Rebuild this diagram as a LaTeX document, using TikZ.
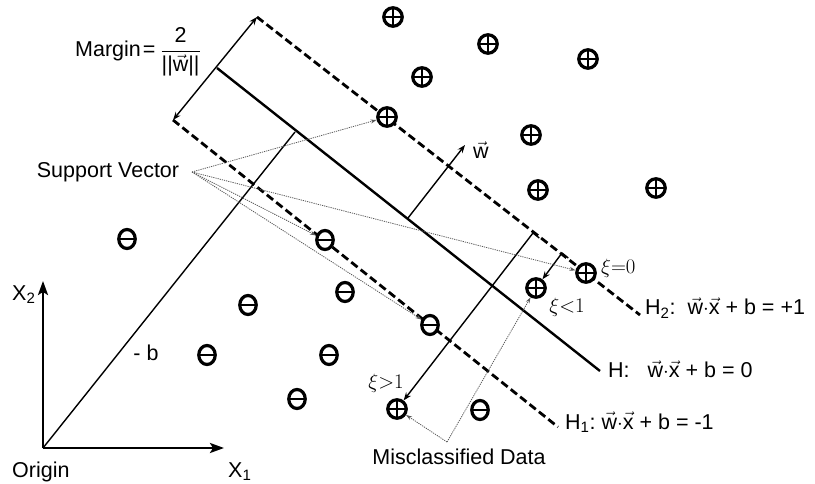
\documentclass[tikz,border=0pt]{standalone}
\usepackage{fontspec}
\setmainfont{Liberation Sans}
\usepackage{amsmath}
\usetikzlibrary{arrows.meta,shapes.geometric}
\newcommand\vw{\ensuremath{\vec{\text{w}}}}
\newcommand\vx{\ensuremath{\vec{\text{x}}}}
\begin{document}
\begin{tikzpicture}[x=1pt,y=-1pt,
  possym/.style={circle,draw,fill=white,line width=3.2pt,minimum size=18.5pt,inner sep=0pt,
    path picture={\draw[line width=2.8pt] (path picture bounding box.north)--(path picture bounding box.south) (path picture bounding box.west)--(path picture bounding box.east);}},
  negsym/.style={ellipse,draw,fill=white,line width=3.2pt,minimum width=16.5pt,minimum height=19pt,inner sep=0pt,
    path picture={\draw[line width=2.8pt] (path picture bounding box.west)--(path picture bounding box.east);}},
  lbl/.style={font=\fontsize{21.5}{24}\selectfont, inner sep=0pt},
  greek/.style={font=\fontsize{20}{22}\selectfont, inner sep=0pt},
  hyper/.style={line width=2.4pt},
  marg/.style={line width=2.8pt, dash pattern=on 8pt off 4pt},
  thinl/.style={line width=1.4pt},
  dots/.style={line width=0.8pt, black!65, dash pattern=on 1.2pt off 1pt, -{Stealth[length=6pt,width=4pt]}},
  tipa/.style={-{Stealth[length=8pt,width=6pt]}},
  axis/.style={line width=2.4pt,-{Stealth[length=14pt,width=10pt,inset=3pt]}},
]
\useasboundingbox (0,0) rectangle (815,484);
% coordinates
\coordinate (o) at (43,448);
\coordinate (x1end) at (224,448);
\coordinate (x2end) at (43,281);
\coordinate (bend) at (295,132);
\coordinate (h0) at (217,68);
\coordinate (h1) at (600,371);
\coordinate (h2a) at (257,17);
\coordinate (h2b) at (640,315);
\coordinate (h1a) at (173,120);
\coordinate (h1b) at (558,427);
\coordinate (w0) at (408,218);
\coordinate (w1) at (465,145);
\coordinate (s1) at (533,233);
\coordinate (s2) at (562,253);
\coordinate (sv) at (192,172);
\coordinate (mc) at (447,442);
% axes
\draw[axis] (o) -- (x1end);
\draw[axis] (o) -- (x2end);
\draw[thinl] (o) -- (bend);
% hyperplanes
\draw[hyper] (h0) -- (h1);
\draw[marg] (h2a) -- (h2b);
\draw[marg] (h1a) -- (h1b);
% margin arrow
\draw[thinl,{Stealth[length=8pt,width=6pt]}-{Stealth[length=8pt,width=6pt]}] (h1a) -- (h2a);
% w vector
\draw[thinl,tipa] (w0) -- (w1);
% data points
\foreach \n/\p in {p1/{(393,17)},p2/{(488,44)},p3/{(422,77)},p4/{(588,59)},p5/{(387,117)},p6/{(531,135)},p7/{(538,190)},p8/{(656,188)},p9/{(586,273)},p10/{(536,288)},p11/{(397,409)}}
  \node[possym] (\n) at \p {};
\foreach \n/\p in {m1/{(127,239)},m2/{(325,240)},m3/{(345,292)},m4/{(248,305)},m5/{(430,325)},m6/{(207,355)},m7/{(329,355)},m8/{(297,399)},m9/{(480,410)}}
  \node[negsym] (\n) at \p {};
% slack arrows
\draw[thinl,tipa] (s1) -- (p11);
\draw[thinl] (s1) -- ++(6.3,5);
\draw[thinl,tipa] (s2) -- (p10);
\draw[thinl] (s2) -- ++(6.3,5);
% support vector arrows
\draw[dots] (sv) -- (p5);
\draw[dots] (sv) -- (m2);
\draw[dots] (sv) -- (m5);
\draw[dots] (sv) -- (p9);
% misclassified arrows
\draw[dots] (mc) -- (p11);
\draw[dots] (mc) -- (p10);
% labels
\node[lbl,anchor=base west] (margin) at (75,57) {Margin\kern2pt=\kern5pt$\dfrac{\text{2}}{\text{||}\vw\text{||}}$};
\node[lbl] (svl) at (108,172) {Support Vector};
\node[lbl,anchor=base west] (x2l) at (12,300) {X\textsubscript{2}};
\node[lbl,anchor=base west] (x1l) at (228,477) {X\textsubscript{1}};
\node[lbl,anchor=base west] (orig) at (12,477) {Origin};
\node[lbl] (bl) at (146,353) {- b};
\node[lbl] (wl) at (481,150) {\vw};
\node[lbl,anchor=west] (h2l) at (645,308) {H\textsubscript{2}:\ \ \vw$\cdot$\vx{} + b = +1};
\node[lbl,anchor=west] (hl) at (608,369) {H:\ \ \ \vw$\cdot$\vx{} + b = 0};
\node[lbl,anchor=west] (h1l) at (565,422) {H\textsubscript{1}:\ \vw$\cdot$\vx{} + b = -1};
\node[lbl] (mcl) at (459,457) {Misclassified Data};
\node[greek,anchor=west] (xi0) at (601,268) {$\xi{=}0$};
\node[greek] (xi1) at (567,307) {$\xi{<}1$};
\node[greek] (xi2) at (386,383) {$\xi{>}1$};
\end{tikzpicture}
\end{document}
